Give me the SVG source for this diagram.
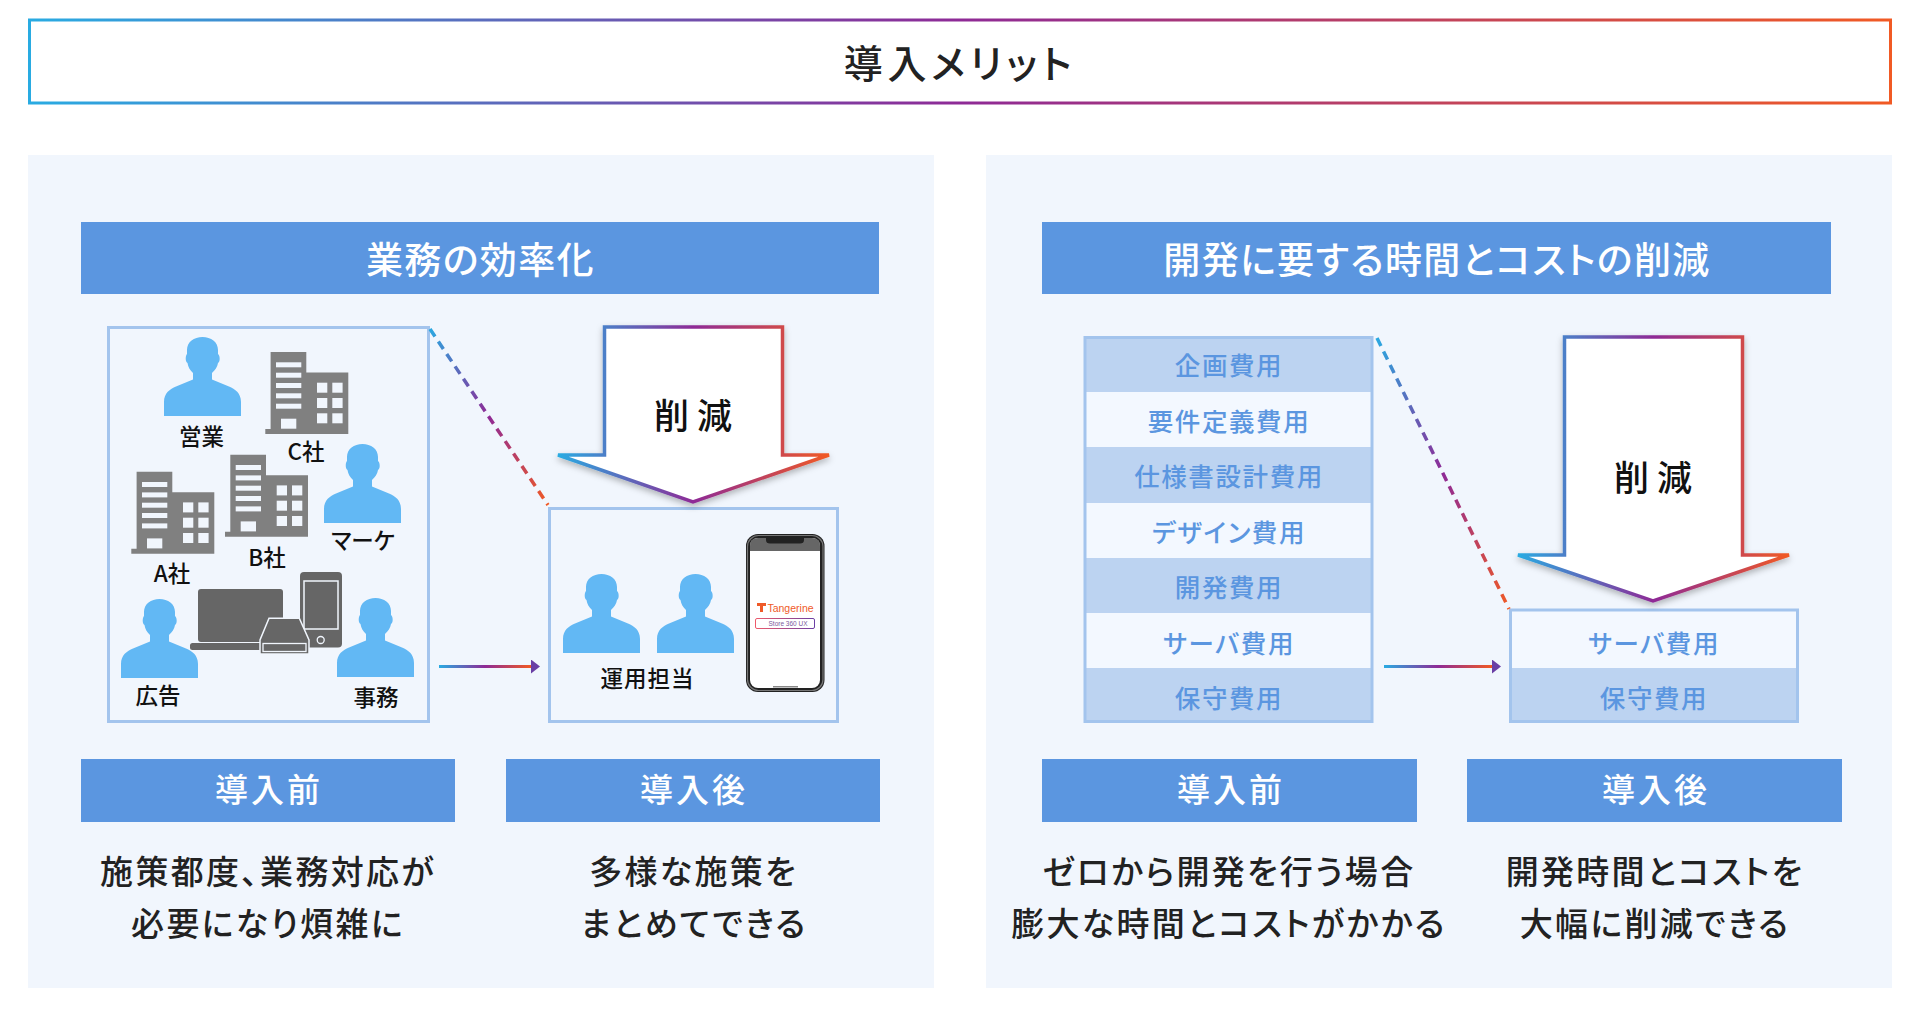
<svg xmlns="http://www.w3.org/2000/svg" xmlns:xlink="http://www.w3.org/1999/xlink" width="1920" height="1016" viewBox="0 0 1920 1016">
<style>
text{font-family:"Noto Sans CJK JP","Noto Sans",sans-serif;text-anchor:middle;dominant-baseline:central;font-feature-settings:"palt"}
.panel{fill:#f1f6fd}
.head{fill:#5b96e0}
.wt{fill:#fff;font-weight:500}
.h1{font-size:37px;letter-spacing:1.400px}
.h2{font-size:33px;letter-spacing:3px}
.body{font-size:33px;letter-spacing:2.300px;fill:#222;font-weight:500}
.lbl{font-size:22.500px;fill:#111;font-weight:500}
.box{fill:none;stroke:#a3c4ed;stroke-width:3}
.dark{fill:#bcd3f1}
.light{fill:#f3f8ff}
.row{font-size:25.500px;letter-spacing:1.600px;fill:#5b96e0;font-weight:500}
.cut{font-size:35px;fill:#111;font-weight:500}
.arrow{fill:#fff;stroke-width:3.500;stroke-linejoin:miter;filter:url(#sh)}
.dash{fill:none;stroke-width:3.500;stroke-dasharray:9 6}
.link{stroke-width:3;fill:none;marker-end:url(#tip)}
</style>
<defs>
<linearGradient id="gT" gradientUnits="userSpaceOnUse" x1="29" y1="0" x2="1891" y2="0"><stop offset="0" stop-color="#29abe2"/><stop offset=".5" stop-color="#8e2a96"/><stop offset="1" stop-color="#f15a24"/></linearGradient>
<linearGradient id="gA1" gradientUnits="userSpaceOnUse" x1="558" y1="0" x2="829" y2="0"><stop offset="0" stop-color="#29abe2"/><stop offset=".5" stop-color="#8e2a96"/><stop offset="1" stop-color="#f15a24"/></linearGradient>
<linearGradient id="gA2" gradientUnits="userSpaceOnUse" x1="1518" y1="0" x2="1789" y2="0"><stop offset="0" stop-color="#29abe2"/><stop offset=".5" stop-color="#8e2a96"/><stop offset="1" stop-color="#f15a24"/></linearGradient>
<linearGradient id="gD1" gradientUnits="userSpaceOnUse" x1="428" y1="327" x2="548" y2="505"><stop offset="0" stop-color="#29abe2"/><stop offset=".5" stop-color="#8e2a96"/><stop offset="1" stop-color="#f15a24"/></linearGradient>
<linearGradient id="gD2" gradientUnits="userSpaceOnUse" x1="1376" y1="336" x2="1509" y2="610"><stop offset="0" stop-color="#29abe2"/><stop offset=".5" stop-color="#8e2a96"/><stop offset="1" stop-color="#f15a24"/></linearGradient>
<linearGradient id="gL1" gradientUnits="userSpaceOnUse" x1="439" y1="0" x2="531" y2="0"><stop offset="0" stop-color="#29abe2"/><stop offset=".5" stop-color="#8e2a96"/><stop offset="1" stop-color="#f15a24"/></linearGradient>
<linearGradient id="gL2" gradientUnits="userSpaceOnUse" x1="1384" y1="0" x2="1492" y2="0"><stop offset="0" stop-color="#29abe2"/><stop offset=".5" stop-color="#8e2a96"/><stop offset="1" stop-color="#f15a24"/></linearGradient>
<linearGradient id="gS" gradientUnits="userSpaceOnUse" x1="755" y1="0" x2="815" y2="0"><stop offset="0" stop-color="#ef5a6a"/><stop offset="1" stop-color="#6a3fa5"/></linearGradient>
<filter id="sh" x="-20%" y="-20%" width="140%" height="140%"><feDropShadow dx="0" dy="3" stdDeviation="3" flood-color="#000" flood-opacity=".28"/></filter>
<marker id="tip" markerUnits="userSpaceOnUse" markerWidth="9" markerHeight="14" refX="0" refY="7" orient="auto"><path d="M0 0L9 7L0 14Z" fill="#6a3fa5"/></marker>
<symbol id="person" viewBox="0 0 77 79" width="77" height="79" overflow="visible"><path fill="#62b8f4" d="M0 79V65C0 56 6 52 12 49.500L29 42.500V36C26 33 24 30 23.500 26C21 25 21.500 18 23 17V13C23 5 30 0 38.500 0C47 0 54 5 54 13V17C56 18 56.500 25 54 26C53.500 30 51 33 48 36V42.500L65 49.500C71 52 77 56 77 65V79Z"/></symbol>
<symbol id="bld" viewBox="0 0 83 82" width="83" height="82" overflow="visible"><path fill="#808080" d="M5.300 0H41V20.500H83V82H0V77H5.300Z"/><g fill="#f1f6fd"><rect x="10.700" y="10.300" width="25.300" height="5"/><rect x="10.700" y="20.700" width="25.300" height="5"/><rect x="10.700" y="31" width="25.300" height="5"/><rect x="10.700" y="41.300" width="25.300" height="5"/><rect x="10.700" y="51.700" width="25.300" height="5"/><rect x="15.700" y="66.700" width="15.300" height="10"/><rect x="51.700" y="30.700" width="10.300" height="10"/><rect x="67" y="30.700" width="10.300" height="10"/><rect x="51.700" y="46" width="10.300" height="10"/><rect x="67" y="46" width="10.300" height="10"/><rect x="51.700" y="61.300" width="10.300" height="10"/><rect x="67" y="61.300" width="10.300" height="10"/></g></symbol>
</defs>
<rect width="1920" height="1016" fill="#fff"/>
<g id="title"><rect x="29.500" y="20" width="1861" height="83" fill="#fff" stroke="url(#gT)" stroke-width="3"/><text x="960" y="61" class="h1" fill="#222" font-weight="500" style="font-size:39px;letter-spacing:4.600px">導入メリット</text></g>

<g id="panel-left">
<rect class="panel" x="28" y="155" width="906" height="833"/>
<rect class="head" x="81" y="222" width="798" height="72"/><text class="wt h1" x="480.500" y="258">業務の効率化</text>
<rect class="head" x="81" y="759" width="374" height="63"/><text class="wt h2" x="269" y="788">導入前</text>
<rect class="head" x="506" y="759" width="374" height="63"/><text class="wt h2" x="694" y="788">導入後</text>
<text class="body" x="268" y="870">施策都度、業務対応が</text><text class="body" x="268" y="922">必要になり煩雑に</text>
<text class="body" x="693.500" y="870">多様な施策を</text><text class="body" x="694" y="922">まとめてできる</text>
</g>
<g id="panel-right">
<rect class="panel" x="986" y="155" width="906" height="833"/>
<rect class="head" x="1042" y="222" width="789" height="72"/><text class="wt h1" x="1437" y="258">開発に要する時間とコストの削減</text>
<rect class="head" x="1042" y="759" width="375" height="63"/><text class="wt h2" x="1231" y="788">導入前</text>
<rect class="head" x="1467" y="759" width="375" height="63"/><text class="wt h2" x="1656" y="788">導入後</text>
<text class="body" x="1229" y="870">ゼロから開発を行う場合</text><text class="body" x="1229" y="922">膨大な時間とコストがかかる</text>
<text class="body" x="1655" y="870">開発時間とコストを</text><text class="body" x="1655" y="922">大幅に削減できる</text>
</g>

<g id="before-left">
<rect class="box" x="108.500" y="327.500" width="320" height="394"/>
<use href="#person" x="164" y="337"/><text class="lbl" x="201.500" y="434.500">営業</text>
<use href="#bld" x="265.300" y="352"/><text class="lbl" x="306" y="450">C社</text>
<use href="#person" x="324" y="444"/><text class="lbl" x="363" y="538.500">マーケ</text>
<use href="#bld" x="225" y="454.700"/><text class="lbl" x="267" y="556">B社</text>
<use href="#bld" x="131.300" y="471.700"/><text class="lbl" x="172" y="571.500">A社</text>
<use href="#person" x="121" y="599"/><text class="lbl" x="158" y="694">広告</text>
<use href="#person" x="337" y="598"/><text class="lbl" x="376" y="695.500">事務</text>
<g id="devices">
<rect x="198" y="589" width="85" height="53" rx="3" fill="#666"/>
<rect x="190" y="643" width="78" height="7" rx="2.500" fill="#666"/>
<rect x="300" y="572" width="42" height="75.500" rx="4" fill="#666"/>
<rect x="304" y="581" width="34" height="48" fill="#666" stroke="#f1f6fd" stroke-width="1.500"/>
<circle cx="320.700" cy="640" r="3.500" fill="none" stroke="#f1f6fd" stroke-width="1.300"/>
<path d="M269 618.300H299.300L309 640V654H260V640Z" fill="#666" stroke="#f1f6fd" stroke-width="1.500"/>
<rect x="263" y="643.500" width="43" height="8" fill="#666" stroke="#f1f6fd" stroke-width="1.300"/>
</g>
</g>

<g id="after-left">
<rect class="box" x="549.500" y="508.500" width="288" height="213"/>
<use href="#person" x="563" y="574"/><use href="#person" x="657" y="574"/>
<text class="lbl" x="647.500" y="677" style="letter-spacing:1px">運用担当</text>
<g id="phone">
<rect x="746" y="534" width="78.500" height="158" rx="12" fill="#222"/>
<rect x="747.500" y="535.500" width="75.500" height="155" rx="11" fill="none" stroke="#777" stroke-width="1.200"/>
<rect x="750" y="538" width="70" height="150" rx="8" fill="#fff"/>
<path d="M750 551V546Q750 538 758 538H812Q820 538 820 546V551Z" fill="#666"/>
<path d="M766 538H804V540Q804 543.500 800 543.500H770Q766 543.500 766 540Z" fill="#222"/>
<rect x="773" y="686" width="25" height="1.500" fill="#888"/>
<path d="M757 603H766V606H763V612H760V606H757Z" fill="#ef5a28"/>
<text x="790.500" y="607.500" style="font-family:'Liberation Sans',sans-serif;font-size:10.500px" fill="#ef5a28">Tangerine</text>
<rect x="755.500" y="618.500" width="59" height="10" rx="1.500" fill="#fff" stroke="url(#gS)" stroke-width="1"/>
<text x="788" y="623.300" style="font-family:'Liberation Sans',sans-serif;font-size:6.500px" fill="#7a5a9c">Store 360 UX</text>
</g>
</g>

<g id="arrow-left">
<path class="arrow" stroke="url(#gA1)" d="M604.500 327H782.500V455H829L693 502L558 455H604.500Z"/>
<text class="cut" x="693" y="413" xml:space="preserve">削 減</text>
</g>

<g id="before-right">
<rect class="dark" x="1084" y="337" width="289" height="55"/><rect class="light" x="1084" y="392" width="289" height="55"/><rect class="dark" x="1084" y="447" width="289" height="56"/><rect class="light" x="1084" y="503" width="289" height="55"/><rect class="dark" x="1084" y="558" width="289" height="55"/><rect class="light" x="1084" y="613" width="289" height="55"/><rect class="dark" x="1084" y="668" width="289" height="54"/>
<rect class="box" x="1085" y="337.500" width="287" height="384"/>
<text class="row" x="1229" y="363.500">企画費用</text><text class="row" x="1229" y="419.500">要件定義費用</text><text class="row" x="1229" y="474.500">仕様書設計費用</text><text class="row" x="1229" y="530.500">デザイン費用</text><text class="row" x="1229" y="585.500">開発費用</text><text class="row" x="1229" y="641.500">サーバ費用</text><text class="row" x="1229" y="696.500">保守費用</text>
</g>
<g id="after-right">
<rect class="light" x="1510" y="610" width="288" height="58"/><rect class="dark" x="1510" y="668" width="288" height="54"/>
<rect class="box" x="1510.500" y="610" width="287" height="111.500"/>
<text class="row" x="1654" y="641.500">サーバ費用</text><text class="row" x="1654" y="696.500">保守費用</text>
</g>
<g id="arrow-right">
<path class="arrow" stroke="url(#gA2)" d="M1564.500 337H1742.500V555H1789L1653 601L1518 555H1564.500Z"/>
<text class="cut" x="1653" y="475" xml:space="preserve">削 減</text>
</g>

<g id="connectors">
<path class="dash" stroke="url(#gD1)" d="M430 329L548 505"/>
<path class="dash" stroke="url(#gD2)" d="M1377 338L1509 609"/>
<path class="link" stroke="url(#gL1)" d="M439 666.500H531"/>
<path class="link" stroke="url(#gL2)" d="M1384 666.500H1492"/>
</g>
</svg>
